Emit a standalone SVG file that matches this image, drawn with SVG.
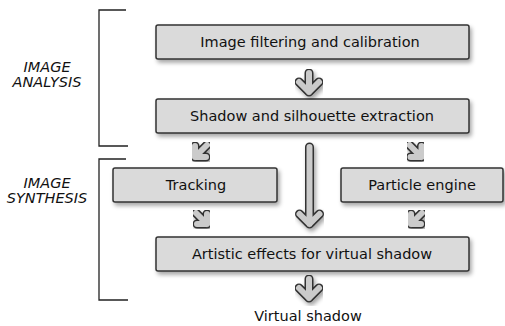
<svg xmlns="http://www.w3.org/2000/svg" width="505" height="326" viewBox="0 0 505 326">
<defs>
<filter id="sh" x="-20%" y="-20%" width="140%" height="160%">
<feDropShadow dx="2" dy="3" stdDeviation="2" flood-color="#000" flood-opacity="0.35"/>
</filter>
<g id="arr">
<path class="ao" d="M0,4 V23 M-10,13 L0,23 L10,13"/>
<path class="ai" d="M0,4 V23 M-10,13 L0,23 L10,13"/>
</g>
</defs>
<style>
.box{fill:#dadada;stroke:#333;stroke-width:1.5;filter:url(#sh)}
.t{font-family:"DejaVu Sans",sans-serif;font-size:14.5px;fill:#111;text-anchor:middle}
.lab{font-family:"DejaVu Sans",sans-serif;font-size:14.5px;font-style:italic;fill:#111;text-anchor:middle}
.br{fill:none;stroke:#222;stroke-width:1.3}
.ao{fill:none;stroke:#333;stroke-width:9;stroke-linecap:round;stroke-linejoin:round}
.ai{fill:none;stroke:#cbcbcb;stroke-width:6;stroke-linecap:round;stroke-linejoin:round}
.arrow{filter:url(#sh)}
</style>
<g id="brackets">
<path class="br" d="M126,10 H99 V146 H128"/>
<path class="br" d="M126,159 H99 V300 H128"/>
<text class="lab" x="47" y="72">IMAGE</text>
<text class="lab" x="47" y="87">ANALYSIS</text>
<text class="lab" x="47" y="188">IMAGE</text>
<text class="lab" x="47" y="203">SYNTHESIS</text>
</g>
<g id="n1"><rect class="box" x="156" y="25" width="313" height="34" rx="2"/><text class="t" x="310" y="47">Image filtering and calibration</text></g>
<g id="n2"><rect class="box" x="156" y="99" width="313" height="34" rx="2"/><text class="t" x="312" y="121">Shadow and silhouette extraction</text></g>
<g id="n3"><rect class="box" x="113" y="168" width="164" height="34" rx="2"/><text class="t" x="196" y="190">Tracking</text></g>
<g id="n4"><rect class="box" x="341" y="168" width="162" height="34" rx="2"/><text class="t" x="422" y="190">Particle engine</text></g>
<g id="n5"><rect class="box" x="156" y="237" width="313" height="34" rx="2"/><text class="t" x="312" y="259">Artistic effects for virtual shadow</text></g>
<g id="out"><text class="t" x="308" y="321">Virtual shadow</text></g>
<g id="connectors">
<use href="#arr" class="arrow" x="309" y="69"/>
<use href="#arr" class="arrow" x="309" y="275"/>
<g class="arrow">
<path class="ao" d="M207,145 L195,157 M195,146 V157 H206"/>
<path class="ai" d="M207,145 L195,157 M195,146 V157 H206"/>
</g>
<g class="arrow">
<path class="ao" d="M409.5,145 L421.5,157 M421.5,146 V157 H410.5"/>
<path class="ai" d="M409.5,145 L421.5,157 M421.5,146 V157 H410.5"/>
</g>
<g class="arrow">
<path class="ao" d="M196,213 L207,224 M207,214 V224 H197"/>
<path class="ai" d="M196,213 L207,224 M207,214 V224 H197"/>
</g>
<g class="arrow">
<path class="ao" d="M422,213 L411,224 M411,214 V224 H421"/>
<path class="ai" d="M422,213 L411,224 M411,214 V224 H421"/>
</g>
<g class="arrow">
<path class="ao" d="M309.5,147 V224 M299.5,214 L309.5,224 L319.5,214"/>
<path class="ai" d="M309.5,147 V224 M299.5,214 L309.5,224 L319.5,214"/>
</g>
</g>
</svg>
